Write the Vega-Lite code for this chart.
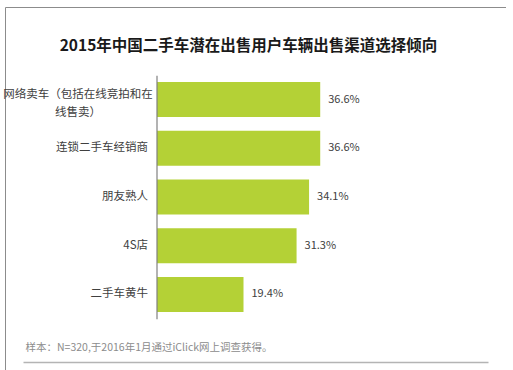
{
  "$schema": "https://vega.github.io/schema/vega-lite/v6.json",
  "width": 501,
  "height": 380,
  "autosize": {"type": "none"},
  "padding": {"left": 5, "top": 7, "right": 0, "bottom": 0},
  "background": "white",
  "config": {
    "view": {"stroke": "#8c8c8c", "strokeWidth": 1},
    "font": "Noto Sans CJK SC"
  },
  "title": {
    "text": "2015年中国二手车潜在出售用户车辆出售渠道选择倾向",
    "fontSize": 15.5,
    "fontWeight": "bold",
    "color": "#1a1a1a",
    "anchor": "middle",
    "dx": -7,
    "dy": 51
  },
  "data": {
    "values": [
      {"channel": "网络卖车（包括在线竞拍和在线售卖）", "pct": 0.366},
      {"channel": "连锁二手车经销商", "pct": 0.366},
      {"channel": "朋友熟人", "pct": 0.341},
      {"channel": "4S店", "pct": 0.313},
      {"channel": "二手车黄牛", "pct": 0.194}
    ]
  },
  "encoding": {
    "y": {
      "field": "channel",
      "type": "nominal",
      "sort": null,
      "scale": {"range": [68.2, 311.8], "paddingInner": 0.28, "paddingOuter": 0.14},
      "axis": {
        "title": null,
        "orient": "left",
        "offset": -151.5,
        "zindex": 1,
        "domain": true,
        "domainColor": "#808080",
        "domainWidth": 1.2,
        "ticks": false,
        "grid": false,
        "labelFontSize": 11.5,
        "labelColor": "#404040",
        "labelLineHeight": 18,
        "labelLimit": 300,
        "labelBaseline": "middle",
        "labelExpr": "datum.label == '网络卖车（包括在线竞拍和在线售卖）' ? ['网络卖车（包括在线竞拍和在', '线售卖）'] : datum.label",
        "labelAlign": {"condition": {"test": "datum.value == '网络卖车（包括在线竞拍和在线售卖）'", "value": "center"}, "value": "right"},
        "labelPadding": {"condition": {"test": "datum.value == '网络卖车（包括在线竞拍和在线售卖）'", "value": 79}, "value": 9},
        "labelOffset": {"condition": {"test": "datum.value == '网络卖车（包括在线竞拍和在线售卖）'", "value": -4.5}, "value": 0}
      }
    }
  },
  "layer": [
    {
      "mark": {"type": "bar", "color": "#b4d136"},
      "encoding": {
        "x": {
          "field": "pct",
          "type": "quantitative",
          "scale": {"domain": [-0.3004, 0.7422], "range": [18, 483], "nice": false, "zero": false},
          "axis": {
            "orient": "bottom",
            "offset": -25,
            "domain": true,
            "domainColor": "#b4b4b4",
            "domainWidth": 1.5,
            "domainOpacity": 1,
            "ticks": false,
            "labels": false,
            "grid": false,
            "title": "样本：N=320,于2016年1月通过iClick网上调查获得。",
            "titleFontSize": 10.5,
            "titleFontWeight": "normal",
            "titleColor": "#8c8c8c",
            "titleAlign": "left",
            "titleAnchor": null,
            "titleBaseline": "middle",
            "titleX": 20,
            "titleY": -15
          }
        }
      }
    },
    {
      "mark": {"type": "text", "align": "left", "baseline": "middle", "dx": 8, "fontSize": 11, "color": "#404040"},
      "encoding": {
        "x": {"field": "pct", "type": "quantitative"},
        "text": {"field": "pct", "type": "quantitative", "format": ".1%"}
      }
    }
  ]
}
